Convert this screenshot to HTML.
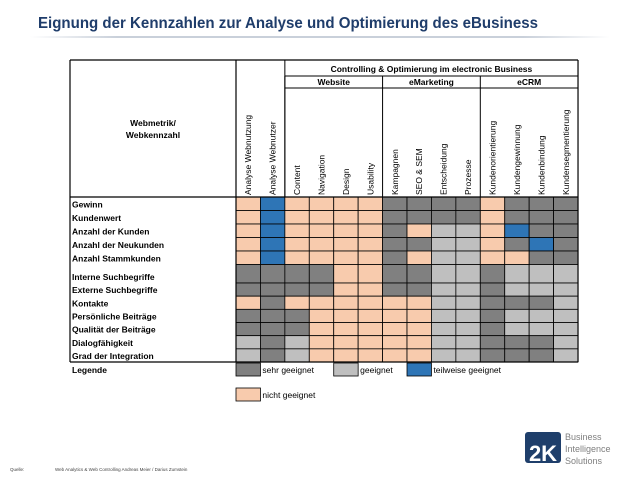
<!DOCTYPE html>
<html><head><meta charset="utf-8"><style>
html,body{margin:0;padding:0;background:#fff;}
svg{display:block;font-family:"Liberation Sans",sans-serif;}
</style></head><body>
<svg id="s" width="638" height="479" viewBox="0 0 638 479" xmlns="http://www.w3.org/2000/svg">
<defs><linearGradient id="g" x1="0" x2="1"><stop offset="0" stop-color="#fff"/><stop offset="0.15" stop-color="#c9d0da"/><stop offset="0.85" stop-color="#c9d0da"/><stop offset="1" stop-color="#fff"/></linearGradient></defs>
<text x="38" y="28" font-size="16" font-weight="bold" fill="#1f3d6b" textLength="500" lengthAdjust="spacingAndGlyphs">Eignung der Kennzahlen zur Analyse und Optimierung des eBusiness</text>
<rect x="30" y="36" width="580" height="2" fill="url(#g)"/>
<g id="tbl"></g>
<g>
<rect x="525" y="432" width="36" height="31" rx="3" fill="#1f3f6b"/>
<text x="543" y="461" font-size="22" font-weight="bold" fill="#fff" text-anchor="middle">2K</text>
<text x="565" y="440" font-size="9" fill="#7f7f7f">Business</text>
<text x="565" y="452" font-size="9" fill="#7f7f7f">Intelligence</text>
<text x="565" y="464" font-size="9" fill="#7f7f7f">Solutions</text>
</g>
<text x="10" y="471" font-size="4.5" fill="#444">Quelle:</text>
<text x="55" y="471" font-size="4.5" fill="#444">Web Analytics &amp; Web Controlling Andreas Meier / Darius Zumstein</text>
</svg>
<script>
const rowsLabels=["Gewinn","Kundenwert","Anzahl der Kunden","Anzahl der Neukunden","Anzahl Stammkunden","Interne Suchbegriffe","Externe Suchbegriffe","Kontakte","Persönliche Beiträge","Qualität der Beiträge","Dialogfähigkeit","Grad der Integration"];
const colLabels=["Analyse Webnutzung","Analyse Webnutzer","Content","Navigation","Design","Usability","Kampagnen","SEO & SEM","Entscheidung","Prozesse","Kundenorientierung","Kundengewinnung","Kundenbindung","Kundensegmentierung"];
const groups=[["Website",2,6],["eMarketing",6,10],["eCRM",10,14]];
const cells=[
"PBPPPPDDDDPDDD",
"PBPPPPDDDDPDDD",
"PBPPPPDPLLPBDD",
"PBPPPPDDLLPDBD",
"PBPPPPDPLLPPDD",
"DDDDPPDDLLDLLL",
"DDDDPPDDLLDLLL",
"PDPPPPPPLLDDDL",
"DDDPPPPPLLDLLL",
"DDDPPPPPLLDLLL",
"LDLPPPPPLLDDDL",
"LDLPPPPPLLDDDL"];
const legendItems=[["D","sehr geeignet"],["L","geeignet"],["B","teilweise geeignet"],["P","nicht geeignet"]];
const colors={P:"#f8cbad",B:"#2e75b6",D:"#808080",L:"#bfbfbf"};
const NS="http://www.w3.org/2000/svg";
const g=document.getElementById('tbl');
const X0=236,CW=24.43,Y0=197;
function cx(i){return X0+i*CW;}
function ry(i){return i<=5?Y0+i*13.5:265+18+(i-6)*13.17;}
function mk(t,a,p){const e=document.createElementNS(NS,t);for(const k in a)e.setAttribute(k,a[k]);(p||g).appendChild(e);return e;}
function line(x1,y1,x2,y2,w){const l=mk('line',{x1,y1,x2,y2,stroke:'#000','stroke-width':w||1});

}
function txt(x,y,s,a){const t=mk('text',Object.assign({x,y,'font-size':8.5,fill:'#000'},a||{}));t.textContent=s;return t;}
cells.forEach((row,r)=>{[...row].forEach((c,i)=>{
const e=mk('rect',{x:cx(i),y:ry(r),width:CW,height:ry(r+1)-ry(r),fill:colors[c],stroke:'#000','stroke-width':0.8});


});});
rowsLabels.forEach((s,r)=>{const t=txt(72,ry(r+1)-3,s,{'font-weight':'bold'});

});
colLabels.forEach((s,i)=>{const x=cx(i)+CW/2+3,y=195;
const t=txt(x,y,s,{transform:'rotate(-90 '+x+' '+y+')'});

});
const XE=cx(14);
line(70,60,XE,60,1.2);line(70,60,70,ry(12),1.2);line(XE,60,XE,ry(12),1.2);
line(70,Y0,XE,Y0,1.2);line(70,ry(12),XE,ry(12),1.2);
line(X0,60,X0,ry(12),1.2);line(cx(2),60,cx(2),Y0,1);
line(cx(2),76,XE,76,1);line(cx(2),88,XE,88,1);
groups.forEach(([n,a,b])=>{line(cx(a),76,cx(a),Y0,1);
const t=txt((cx(a)+cx(b))/2,85,n,{'text-anchor':'middle','font-weight':'bold'});

});
const ch=txt((cx(2)+XE)/2,72,"Controlling & Optimierung im electronic Business",{'text-anchor':'middle','font-weight':'bold'});


const w1=txt(153,126,"Webmetrik/",{'text-anchor':'middle','font-weight':'bold'});


const w2=txt(153,138,"Webkennzahl",{'text-anchor':'middle','font-weight':'bold'});


const lg=txt(72,373,"Legende",{'font-weight':'bold'});


const lpos=[[0,363],[4,363],[7,363],[0,388]];
legendItems.forEach(([c,s],k)=>{const [ci,y]=lpos[k];
const r=mk('rect',{x:cx(ci),y,width:CW,height:13,fill:colors[c],stroke:'#000','stroke-width':0.8});


const t=txt(cx(ci)+CW+2,y+10,s);

});
</script>
</body></html>
